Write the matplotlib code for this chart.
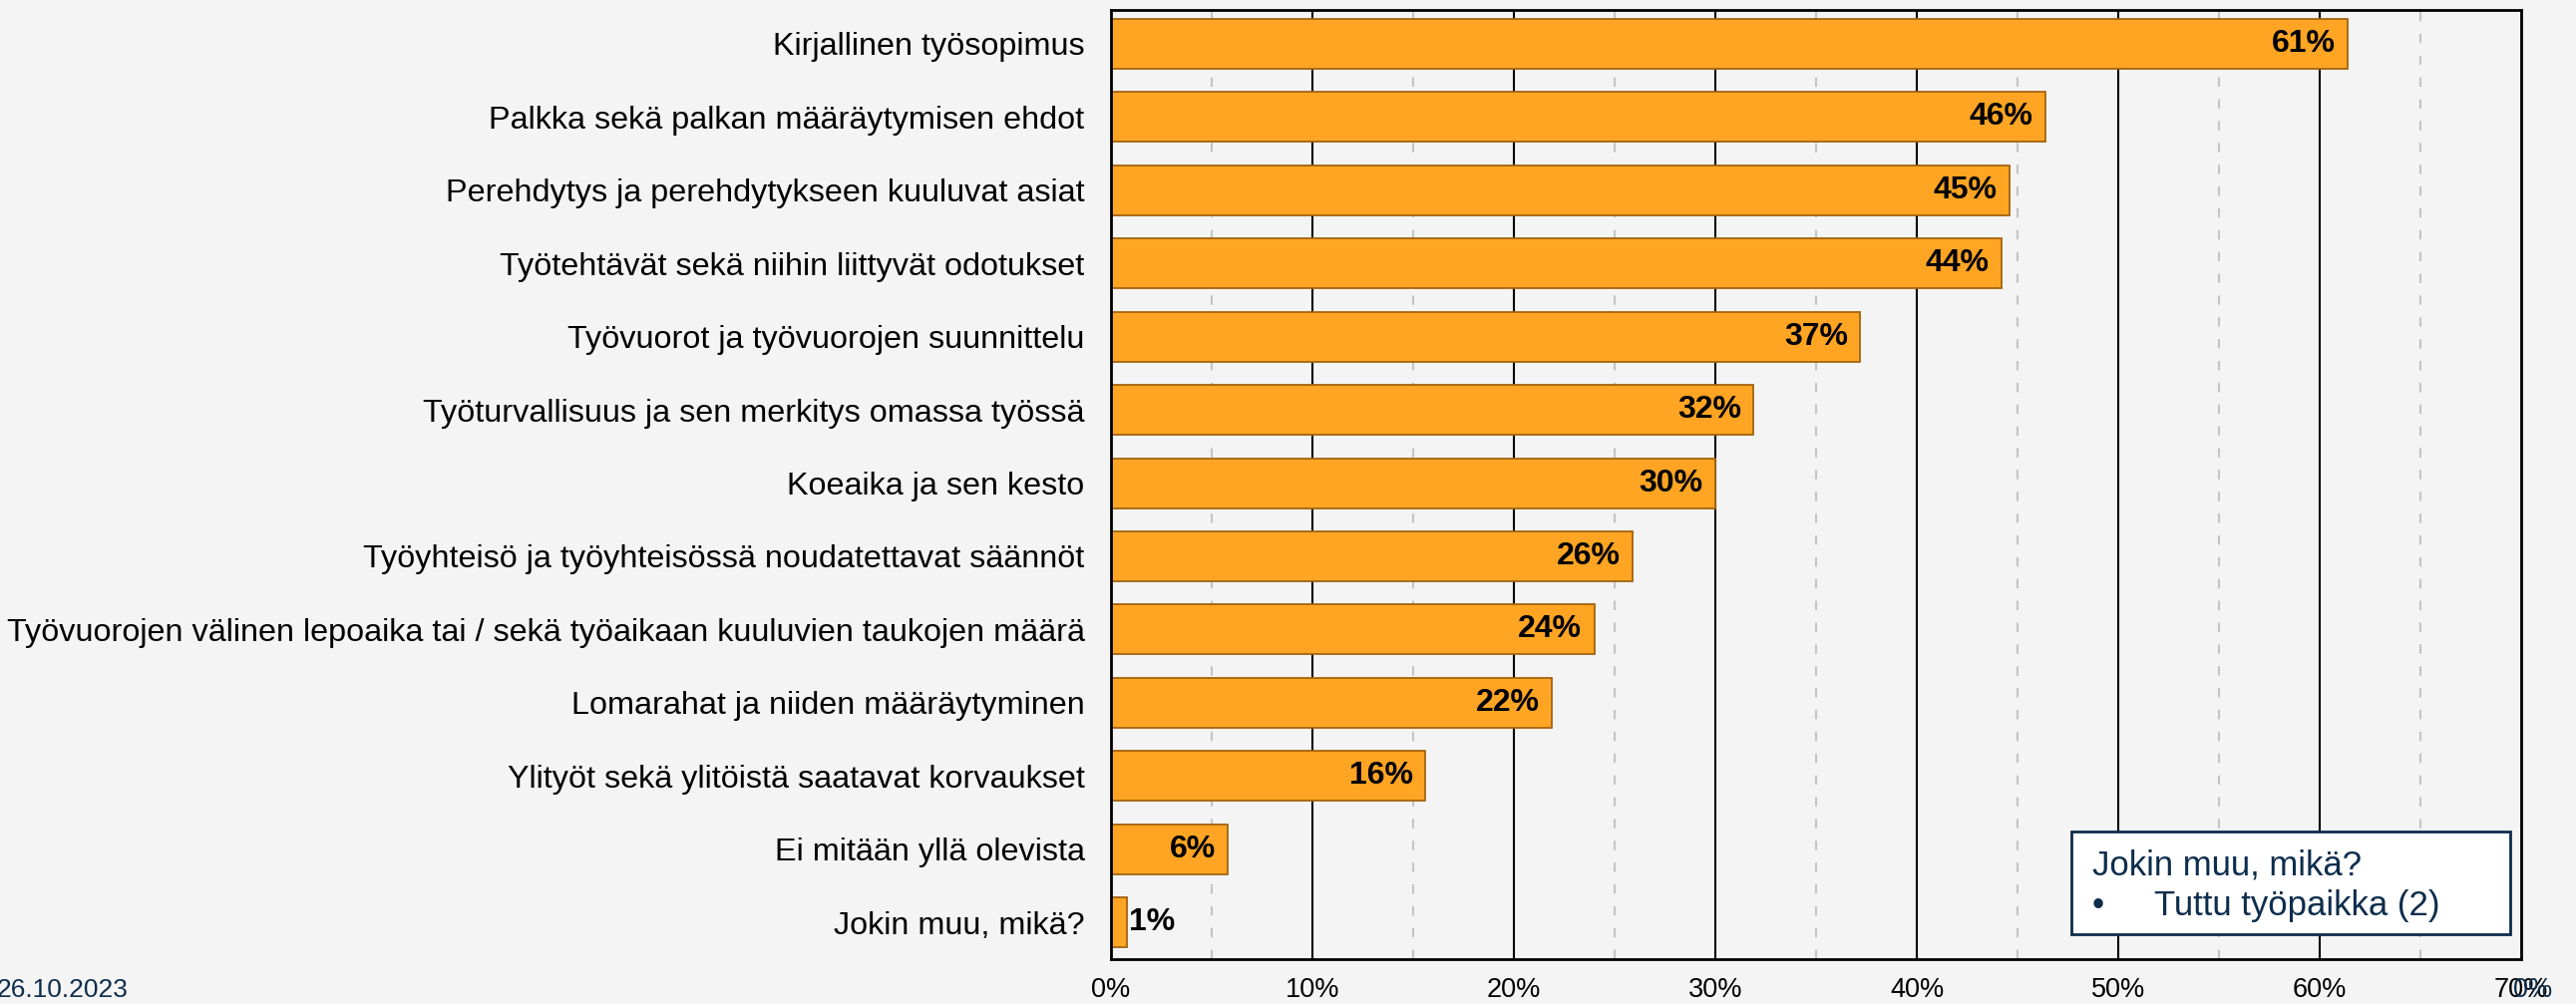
import matplotlib
matplotlib.use("Agg")
import matplotlib.pyplot as plt
from matplotlib.patches import Rectangle
from matplotlib.ticker import FixedLocator, FuncFormatter

plt.rcParams['font.family'] = ['Liberation Sans', 'DejaVu Sans']

# Survey answers: what was agreed/explained at the start of employment (share of respondents, %)
categories = [
    "Kirjallinen työsopimus",
    "Palkka sekä palkan määräytymisen ehdot",
    "Perehdytys ja perehdytykseen kuuluvat asiat",
    "Työtehtävät sekä niihin liittyvät odotukset",
    "Työvuorot ja työvuorojen suunnittelu",
    "Työturvallisuus ja sen merkitys omassa työssä",
    "Koeaika ja sen kesto",
    "Työyhteisö ja työyhteisössä noudatettavat säännöt",
    "Työvuorojen välinen lepoaika tai / sekä työaikaan kuuluvien taukojen määrä",
    "Lomarahat ja niiden määräytyminen",
    "Ylityöt sekä ylitöistä saatavat korvaukset",
    "Ei mitään yllä olevista",
    "Jokin muu, mikä?",
]
shares = [61.4, 46.4, 44.6, 44.2, 37.2, 31.9, 30.0, 25.9, 24.0, 21.9, 15.6, 5.8, 0.8]
major_ticks = [0, 10, 20, 30, 40, 50, 60, 70]
minor_ticks = [5, 15, 25, 35, 45, 55, 65]
other_title = "Jokin muu, mikä?"
other_items = ["Tuttu työpaikka (2)"]
date_text = "26.10.2023"

W, H = 2583, 1007
BG = "#F4F4F4"
NAVY = "#0E2D4C"
BAR = "#FFA523"
BAR_EDGE = "#A3630F"

fig = plt.figure(figsize=(W / 100, H / 100), dpi=100, facecolor=BG)
ax = fig.add_axes([1114 / W, 1 - 962 / H, (2528 - 1114) / W, (962 - 10) / H])
ax.set_facecolor(BG)

ypos = list(range(len(categories)))
ax.barh(ypos, shares, height=0.68, color=BAR, edgecolor=BAR_EDGE, linewidth=1.3, zorder=3)

for y, v in zip(ypos, shares):
    label = f"{round(v):d}%"
    if v < 3:
        ax.annotate(label, xy=(v, y), xytext=(1, 0), textcoords="offset points",
                    ha="left", va="center", fontsize=23, fontweight="bold", color="black", zorder=4)
    else:
        ax.annotate(label, xy=(v, y), xytext=(-9, 0), textcoords="offset points",
                    ha="right", va="center", fontsize=23, fontweight="bold", color="black", zorder=4)

ax.set_xlim(0, 70)
ax.set_ylim(len(categories) - 0.5, -0.46)

# solid lines at every 10 %, dashed light lines halfway between
for t in major_ticks[1:-1]:
    ax.axvline(t, color="black", linewidth=1.5, zorder=1)
for t in minor_ticks:
    ax.axvline(t, color="#C4C4C4", linewidth=1.5, linestyle=(0, (4.5, 6)), zorder=1)

ax.xaxis.set_major_locator(FixedLocator(major_ticks))
ax.xaxis.set_major_formatter(FuncFormatter(lambda x, p: f"{x:.0f}%"))
ax.tick_params(axis="x", length=0, pad=13, labelsize=19.5, colors="black")
ax.set_yticks(ypos)
ax.set_yticklabels(categories)
ax.tick_params(axis="y", length=0, pad=19, labelsize=23.3, colors="black")

for s in ax.spines.values():
    s.set_color("black")
    s.set_linewidth(2)
    s.set_zorder(5)

# page marker sitting on top of the last tick label
fig.text(2540 / W, 1 - 993 / H, "0%", color=NAVY, fontsize=19.5, ha="center", va="center")

# date in the lower-left corner
fig.text(-3 / W, 1 - 993 / H, date_text, color=NAVY, fontsize=19, ha="left", va="center")

# note box listing the open answers
box = Rectangle((2077 / W, 1 - 937 / H), (2517 - 2077) / W, (937 - 834) / H,
                transform=fig.transFigure, facecolor="white", edgecolor=NAVY,
                linewidth=2, zorder=10)
fig.patches.append(box)
fig.text(2098 / W, 1 - 877 / H, other_title, color=NAVY, fontsize=25,
         ha="left", va="baseline", zorder=11)
for k, item in enumerate(other_items):
    yb = 1 - (918 + 40 * k) / H
    fig.text(2098 / W, yb, "•", color=NAVY, fontsize=25, ha="left", va="baseline", zorder=11)
    fig.text(2160 / W, yb, item, color=NAVY, fontsize=25, ha="left", va="baseline", zorder=11)

fig.savefig("out.png", dpi=100, facecolor=BG)
